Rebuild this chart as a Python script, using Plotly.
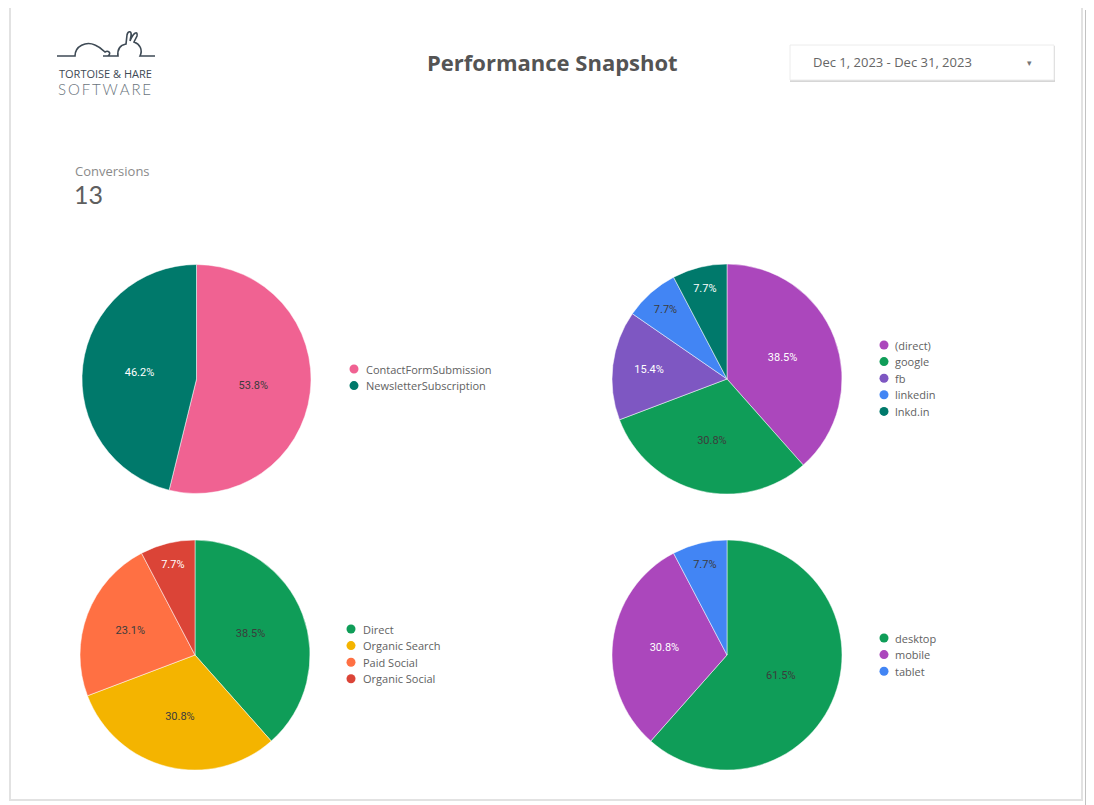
import plotly.graph_objects as go

# page is offset by the 8px default body margin; work in page pixels
OFF = 8
PAGE_W, PAGE_H = 1094, 805
W, H = PAGE_W - OFF, PAGE_H - OFF

# ---- data ----
event_labels = ["ContactFormSubmission", "NewsletterSubscription"]
event_values = [7, 6]
event_colors = ["#f06292", "#00796b"]
event_text_colors = ["#3c3c3c", "#ffffff"]

source_labels = ["(direct)", "google", "fb", "linkedin", "lnkd.in"]
source_values = [5, 4, 2, 1, 1]
source_colors = ["#ab47bc", "#0f9d58", "#7e57c2", "#4285f4", "#00796b"]
source_text_colors = ["#ffffff", "#3c3c3c", "#ffffff", "#3c3c3c", "#ffffff"]

channel_labels = ["Direct", "Organic Search", "Paid Social", "Organic Social"]
channel_values = [5, 4, 3, 1]
channel_colors = ["#0f9d58", "#f4b400", "#ff7043", "#db4437"]
channel_text_colors = ["#3c3c3c", "#3c3c3c", "#3c3c3c", "#ffffff"]

device_labels = ["desktop", "mobile", "tablet"]
device_values = [8, 4, 1]
device_colors = ["#0f9d58", "#ab47bc", "#4285f4"]
device_text_colors = ["#3c3c3c", "#ffffff", "#3c3c3c"]

conversions_total = 13
title_text = "Performance Snapshot"
date_range_text = "Dec 1, 2023 - Dec 31, 2023"

# ---- layout helpers (page-pixel boxes) ----
def dom(x0, x1, y0, y1):
    return dict(x=[(x0 - OFF) / W, (x1 - OFF) / W],
                y=[1 - (y1 - OFF) / H, 1 - (y0 - OFF) / H])

pies = [
    (event_labels, event_values, event_colors, event_text_colors, dom(82, 311, 264, 494), (354, 369, 364)),
    (source_labels, source_values, source_colors, source_text_colors, dom(612, 842, 264, 494), (884, 345, 893)),
    (channel_labels, channel_values, channel_colors, channel_text_colors, dom(80, 310, 540, 770), (351, 629, 361)),
    (device_labels, device_values, device_colors, device_text_colors, dom(612, 842, 540, 770), (884, 638, 893)),
]

fig = go.Figure()
shapes = []
annotations = []

# page card
shapes.append(dict(type="rect", xref="x", yref="y", x0=10, x1=1082, y0=5, y1=800,
                   fillcolor="#ffffff", line=dict(color="#e2e2e2", width=2), layer="below"))
shapes.append(dict(type="rect", xref="x", yref="y", x0=1085, x1=1091, y0=10, y1=805,
                   fillcolor="#c2c2c2", line=dict(width=0), layer="above"))

for labels, values, colors, tcolors, d, (lx, ly, tx) in pies:
    fig.add_trace(go.Pie(
        labels=labels, values=values, sort=False, direction="clockwise", rotation=0,
        domain=d, marker=dict(colors=colors, line=dict(color="#ffffff", width=0.5)),
        texttemplate="%{percent:.1%}", textposition="inside",
        insidetextorientation="horizontal",
        textfont=dict(family="Roboto, Arial, sans-serif", size=11, color=tcolors),
        showlegend=False, hoverinfo="label+value+percent",
    ))
    step = 16.6
    for i, (lab, col) in enumerate(zip(labels, colors)):
        cy = ly + i * step
        shapes.append(dict(type="circle", xref="x", yref="y", x0=lx - 4.5, x1=lx + 4.5,
                           y0=cy - 4.5, y1=cy + 4.5, fillcolor=col, line=dict(width=0)))
        annotations.append(dict(x=tx, y=cy, xref="x", yref="y", text=lab, showarrow=False,
                                xanchor="left", yanchor="middle",
                                font=dict(family="Open Sans, Lato, sans-serif", size=11, color="#616161")))

# title
annotations.append(dict(x=552, y=62, xref="x", yref="y", text="<b>" + title_text + "</b>",
                        showarrow=False, xanchor="center", yanchor="middle",
                        font=dict(family="Open Sans, sans-serif", size=22, color="#545454")))

# date range box
shapes.append(dict(type="rect", xref="x", yref="y", x0=790, x1=1055, y0=46, y1=82,
                   fillcolor="#d6d6d6", line=dict(width=0)))
shapes.append(dict(type="rect", xref="x", yref="y", x0=790, x1=1054, y0=45, y1=80,
                   fillcolor="#ffffff", line=dict(color="#ececec", width=1)))
annotations.append(dict(x=811, y=62, xref="x", yref="y", text=date_range_text, showarrow=False,
                        xanchor="left", yanchor="middle",
                        font=dict(family="Open Sans, sans-serif", size=13, color="#666666")))
annotations.append(dict(x=1029, y=63, xref="x", yref="y", text="▾", showarrow=False,
                        xanchor="center", yanchor="middle",
                        font=dict(family="DejaVu Sans, sans-serif", size=9, color="#757575")))

# scorecard
annotations.append(dict(x=73, y=171, xref="x", yref="y", text="Conversions", showarrow=False,
                        xanchor="left", yanchor="middle",
                        font=dict(family="Open Sans, sans-serif", size=13, color="#8a8a8a")))
annotations.append(dict(x=72, y=194, xref="x", yref="y", text=str(conversions_total), showarrow=False,
                        xanchor="left", yanchor="middle",
                        font=dict(family="Lato, Open Sans, sans-serif", size=25, color="#5f5f5f")))

# logo
logo_color = "#3e4a55"
logo_path = ("M 57 56 L 75 56 C 75 46, 86 41, 95 45 C 100 47, 103 50, 105 52 "
             "C 108 50, 112 53, 108 56 L 103 56 L 118 56 C 117 48, 121 45, 126 44 "
             "L 127 35 C 128 30, 132 31, 131 36 L 130 41 C 133 33, 138 30, 137 36 "
             "L 134 42 C 140 44, 143 50, 140 56 L 155 56")
shapes.append(dict(type="path", xref="x", yref="y", path=logo_path,
                   line=dict(color=logo_color, width=1.6)))
annotations.append(dict(x=57, y=73, xref="x", yref="y", text="TORTOISE &amp; HARE", showarrow=False,
                        xanchor="left", yanchor="middle",
                        font=dict(family="Open Sans, sans-serif", size=11, color=logo_color)))
annotations.append(dict(x=56, y=89, xref="x", yref="y", text="S\u2009O\u2009F\u2009T\u2009W\u2009A\u2009R\u2009E",
                        showarrow=False, xanchor="left", yanchor="middle",
                        font=dict(family="Lato, sans-serif", size=15, weight=300, color="#6a747c")))

fig.update_layout(
    width=W, height=H, margin=dict(l=0, r=0, t=0, b=0),
    paper_bgcolor="#ffffff", plot_bgcolor="rgba(0,0,0,0)",
    xaxis=dict(range=[OFF, PAGE_W], visible=False, fixedrange=True, domain=[0, 1]),
    yaxis=dict(range=[PAGE_H, OFF], visible=False, fixedrange=True, domain=[0, 1]),
    shapes=shapes, annotations=annotations, showlegend=False,
)
# anchor the hidden pixel axes
fig.add_trace(go.Scatter(x=[None], y=[None], showlegend=False, hoverinfo="skip"))

fig.write_html("out.html")
